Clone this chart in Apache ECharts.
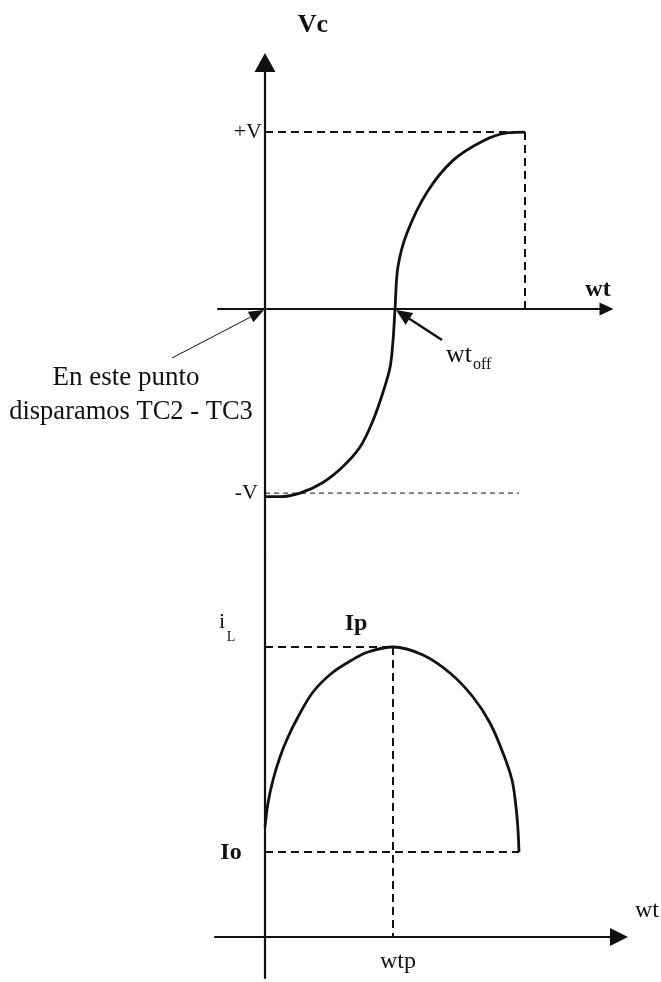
<!DOCTYPE html>
<html>
<head>
<meta charset="utf-8">
<script src="https://cdn.jsdelivr.net/npm/echarts@6.0.0/dist/echarts.min.js"></script>
<style>
    html, body {margin: 0; padding: 0; background: #fff;}
    #chart {width: 661px; height: 982px;}
</style>
</head>
<body>
<div id="chart"></div>
<script>
// tension del condensador Vc (en p.u. de V) frente a wt
let vc_wt = [0, 0.15, 0.35, 0.58, 0.78, 0.95, 1.08, 1.18, 1.25, 1.28, 1.30, 1.33, 1.42, 1.62, 1.88, 2.18, 2.42, 2.60];
let vc_val = [-1.06, -1.06, -1.04, -0.98, -0.89, -0.78, -0.63, -0.47, -0.33, -0.18, 0, 0.24, 0.43, 0.66, 0.84, 0.95, 0.995, 1.0];

// corriente iL frente a wt
let il_wt = [0, 0.03, 0.08, 0.15, 0.23, 0.33, 0.48, 0.67, 0.87, 1.03, 1.28, 1.58, 1.85, 2.08, 2.25, 2.38, 2.47, 2.51, 2.53, 2.54];
let il_val = [1.10, 1.34, 1.57, 1.80, 2.00, 2.20, 2.45, 2.64, 2.77, 2.85, 2.90, 2.82, 2.64, 2.40, 2.14, 1.84, 1.57, 1.30, 1.07, 0.85];

// niveles de referencia
let v_pos = 1.0, v_neg = -1.04, wt_off = 1.30, wt_vend = 2.60;
let i_p = 2.90, wtp = 1.28, i_o = 0.85, wt_iend = 2.54;

let ink = '#111';
let serif = "'Liberation Serif', 'Times New Roman', serif";

function pairs(xs, ys) {
    let out = [];
    for (let i = 0; i < xs.length; i++) {
        out.push([xs[i], ys[i]]);
    }
    return out;
}

function axisX(grid, min, max, arrow) {
    return {
        type: 'value', gridIndex: grid, min: min, max: max,
        axisLine: {onZero: true, symbol: ['none', 'triangle'], symbolSize: arrow, lineStyle: {color: ink, width: 2.2}},
        axisTick: {show: false}, axisLabel: {show: false}, splitLine: {show: false}
    };
}

function axisY(grid, min, max, arrow) {
    return {
        type: 'value', gridIndex: grid, min: min, max: max,
        axisLine: {onZero: true, symbol: arrow ? ['none', 'triangle'] : 'none', symbolSize: arrow || [1, 1], lineStyle: {color: ink, width: 2.2}},
        axisTick: {show: false}, axisLabel: {show: false}, splitLine: {show: false}
    };
}

function curve(grid, data) {
    return {
        type: 'line', xAxisIndex: grid, yAxisIndex: grid, data: data,
        showSymbol: false, smooth: 0.35, silent: true,
        lineStyle: {color: ink, width: 2.8}
    };
}

function guide(grid, data, width, dash) {
    return {
        type: 'line', xAxisIndex: grid, yAxisIndex: grid, data: data,
        showSymbol: false, silent: true,
        lineStyle: {color: ink, width: width, type: dash}
    };
}

function txt(x, y, s, size, opts) {
    opts = opts || {};
    return {
        type: 'text', x: x, y: y, silent: true,
        style: {
            text: s, fill: ink, fontFamily: serif, fontSize: size,
            fontWeight: opts.bold ? 'bold' : 'normal',
            align: opts.align || 'center', verticalAlign: 'middle'
        }
    };
}

let chart = echarts.init(document.getElementById('chart'));

chart.setOption({
    animation: false,
    backgroundColor: '#fff',
    grid: [
        {left: 218, right: 54.5, top: 62.5, bottom: 422},
        {left: 215, right: 42, top: 560, bottom: 4}
    ],
    xAxis: [
        axisX(0, -0.47, 3.415, [13, 14]),
        axisX(1, -0.5, 3.54, [18, 18])
    ],
    yAxis: [
        axisY(0, -1.418, 1.393, [21, 19]),
        axisY(1, -0.41, 3.77, null)
    ],
    series: [
        curve(0, pairs(vc_wt, vc_val)),
        guide(0, [[0, v_pos], [wt_vend, v_pos], [wt_vend, 0]], 2, [8, 5]),
        guide(0, [[0, v_neg], [wt_iend, v_neg]], 1, [5, 4]),
        curve(1, pairs(il_wt, il_val)),
        guide(1, [[0, i_p], [wtp, i_p]], 2, [8, 5]),
        guide(1, [[wtp, i_p], [wtp, 0]], 2, [8, 5]),
        guide(1, [[0, i_o], [wt_iend, i_o]], 2, [8, 5])
    ]
});

// flechas de anotacion: la punta se calcula con la escala del eje
function arrowShapes(from, to, width, len, half) {
    let dx = to[0] - from[0], dy = to[1] - from[1];
    let d = Math.sqrt(dx * dx + dy * dy);
    let ux = dx / d, uy = dy / d;
    let bx = to[0] - ux * len, by = to[1] - uy * len;
    return [
        {type: 'line', silent: true, shape: {x1: from[0], y1: from[1], x2: bx, y2: by},
            style: {stroke: ink, lineWidth: width}},
        {type: 'polygon', silent: true,
            shape: {points: [[to[0], to[1]], [bx - uy * half, by + ux * half], [bx + uy * half, by - ux * half]]},
            style: {fill: ink}}
    ];
}

let origin = chart.convertToPixel({gridIndex: 0}, [0, 0]);
let cross = chart.convertToPixel({gridIndex: 0}, [wt_off, 0]);

let graphics = [].concat(
    arrowShapes([172, 358], [origin[0] - 1, origin[1] + 1], 1, 15, 6),
    arrowShapes([442, 340], [cross[0] + 1, cross[1] + 1], 2.5, 16, 7),
    [
        txt(313, 25, 'Vc', 26, {bold: true}),
        txt(598, 290, 'wt', 24, {bold: true}),
        txt(262, 132, '+V', 22, {align: 'right'}),
        txt(258, 493, '-V', 22, {align: 'right'}),
        txt(446, 355, 'wt', 26, {align: 'left'}),
        txt(473, 365, 'off', 16, {align: 'left'}),
        txt(126, 378, 'En este punto', 27),
        txt(131, 412, 'disparamos TC2 - TC3', 26.5),
        txt(222, 622, 'i', 22),
        txt(231, 637, 'L', 14),
        txt(356, 624, 'Ip', 24, {bold: true}),
        txt(231, 853, 'Io', 24, {bold: true}),
        txt(647, 911, 'wt', 24),
        txt(398, 962, 'wtp', 24)
    ]
);

chart.setOption({graphic: graphics});
</script>
</body>
</html>
